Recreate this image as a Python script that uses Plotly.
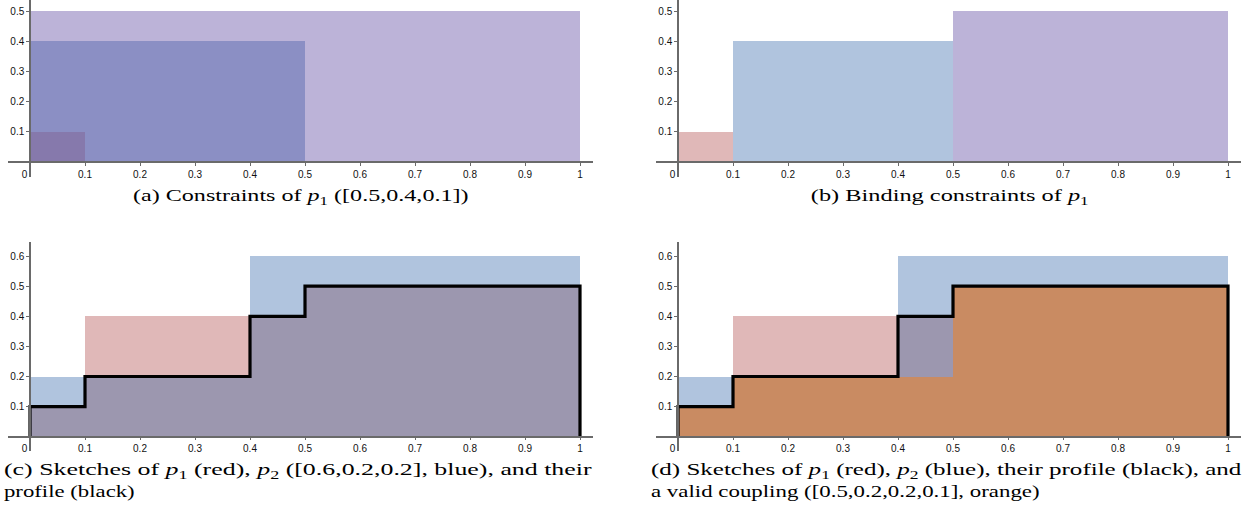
import plotly.graph_objects as go

# ---------------- data ----------------
# (a) constraints of p1: nested rectangles starting at 0
constraint_widths = [1.0, 0.5, 0.1]
constraint_heights = [0.5, 0.4, 0.1]

# (b) binding constraints of p1 (step segments)
p1_edges = [0.0, 0.1, 0.5, 1.0]
p1_heights = [0.1, 0.4, 0.5]

# (c)/(d) sketch of p2
p2_edges = [0.0, 0.1, 0.4, 1.0]
p2_heights = [0.2, 0.2, 0.6]

# profile (min of the two sketches)
profile_edges = [0.0, 0.1, 0.4, 0.5, 1.0]
profile_heights = [0.1, 0.2, 0.4, 0.5]

# (d) coupling sketch
coupling_edges = [0.0, 0.1, 0.4, 0.5, 1.0]
coupling_heights = [0.1, 0.2, 0.2, 0.5]

x_ticks = [0, 0.1, 0.2, 0.3, 0.4, 0.5, 0.6, 0.7, 0.8, 0.9, 1]
x_tick_text = ["0\u00a0\u00a0\u00a0\u00a0", "0.1", "0.2", "0.3", "0.4", "0.5",
               "0.6", "0.7", "0.8", "0.9", "1"]
y_ticks_top = [0.1, 0.2, 0.3, 0.4, 0.5]
y_ticks_bottom = [0.1, 0.2, 0.3, 0.4, 0.5, 0.6]

captions = {
    "a": "(a) Constraints of <i>p</i><sub>1</sub> ([0.5,0.4,0.1])",
    "b": "(b) Binding constraints of <i>p</i><sub>1</sub>",
    "c1": "(c) Sketches of <i>p</i><sub>1</sub> (red), <i>p</i><sub>2</sub> ([0.6,0.2,0.2], blue), and their",
    "c2": "profile (black)",
    "d1": "(d) Sketches of <i>p</i><sub>1</sub> (red), <i>p</i><sub>2</sub> (blue), their profile (black), and",
    "d2": "a valid coupling ([0.5,0.2,0.2,0.1], orange)",
}

# ---------------- style ----------------
W, H = 1255, 520
PURPLE = "#BCB3D8"
A_MID = "#8B8FC4"
A_SMALL = "#8679AC"
BLUE = "#B0C4DE"
RED = "#E0B8B8"
DARK = "#9C97AF"
ORANGE = "#C98B62"
AXIS = "#6a6a6a"


def seg(edges, heights):
    centers = [(edges[i] + edges[i + 1]) / 2 for i in range(len(heights))]
    widths = [edges[i + 1] - edges[i] for i in range(len(heights))]
    return centers, widths, heights


def bars(edges, heights, color, xa, ya):
    c, w, h = seg(edges, heights)
    return go.Bar(x=c, y=h, width=w, base=0, marker=dict(color=color, line=dict(width=0)),
                  xaxis=xa, yaxis=ya, hoverinfo="skip", showlegend=False)


def profile_line(edges, heights, xa, ya):
    xs = [edges[0]] + edges[:-1] + [edges[-1], edges[-1]]
    ys = [0] + heights + [heights[-1], 0]
    return go.Scatter(x=xs, y=ys, mode="lines", line=dict(color="black", width=3.2, shape="hv"),
                      xaxis=xa, yaxis=ya, hoverinfo="skip", showlegend=False, cliponaxis=False)


fig = go.Figure()

# (a)
for w_, h_, col in zip(constraint_widths, constraint_heights, [PURPLE, A_MID, A_SMALL]):
    fig.add_trace(go.Bar(x=[w_ / 2], y=[h_], width=[w_], base=0,
                         marker=dict(color=col, line=dict(width=0)),
                         xaxis="x", yaxis="y", hoverinfo="skip", showlegend=False))

# (b)
c, w, h = seg(p1_edges, p1_heights)
fig.add_trace(go.Bar(x=c, y=h, width=w, base=0,
                     marker=dict(color=[RED, BLUE, PURPLE], line=dict(width=0)),
                     xaxis="x2", yaxis="y2", hoverinfo="skip", showlegend=False))

# (c)
fig.add_trace(bars(p2_edges, p2_heights, BLUE, "x3", "y3"))
fig.add_trace(bars(p1_edges, p1_heights, RED, "x3", "y3"))
fig.add_trace(bars(profile_edges, profile_heights, DARK, "x3", "y3"))
fig.add_trace(profile_line(profile_edges, profile_heights, "x3", "y3"))

# (d)
fig.add_trace(bars(p2_edges, p2_heights, BLUE, "x4", "y4"))
fig.add_trace(bars(p1_edges, p1_heights, RED, "x4", "y4"))
fig.add_trace(bars(profile_edges, profile_heights, DARK, "x4", "y4"))
fig.add_trace(bars(coupling_edges, coupling_heights, ORANGE, "x4", "y4"))
fig.add_trace(profile_line(profile_edges, profile_heights, "x4", "y4"))

tick_font = dict(family="Liberation Sans", size=10, color="#111")

unit_x = 550.0


def xaxis(x0_px, y0_paper):
    return dict(domain=[(x0_px - 22) / W, (x0_px + 563) / W],
                range=[-22 / unit_x, 563 / unit_x],
                anchor="free", position=y0_paper, automargin=False,
                showline=True, linecolor=AXIS, linewidth=1.5,
                ticks="outside", ticklen=3, tickcolor=AXIS, tickwidth=1,
                tickvals=x_ticks, ticktext=x_tick_text, tickfont=tick_font,
                showgrid=False, zeroline=False, fixedrange=True)


def yaxis(y_zero_px, y_top_px, y_bot_px, unit_y, x0_px, ticks):
    return dict(domain=[(H - y_bot_px) / H, (H - y_top_px) / H],
                range=[-(y_bot_px - y_zero_px) / unit_y, (y_zero_px - y_top_px) / unit_y],
                anchor="free", position=x0_px / W, automargin=False,
                showline=True, linecolor=AXIS, linewidth=1.5,
                ticks="outside", ticklen=3, tickcolor=AXIS, tickwidth=1,
                tickvals=ticks, ticktext=[f"{t:g}" for t in ticks], tickfont=tick_font,
                showgrid=False, zeroline=False, fixedrange=True)


top_zero, top_top, top_bot, top_unit = 162.0, 0.0, 177.0, 302.0
bot_zero, bot_top, bot_bot, bot_unit = 436.7, 242.0, 451.0, 301.0

fig.update_layout(
    width=W, height=H,
    margin=dict(l=0, r=0, t=0, b=0, autoexpand=False),
    paper_bgcolor="white", plot_bgcolor="rgba(0,0,0,0)",
    barmode="overlay", bargap=0,
    xaxis=xaxis(30, (H - top_zero) / H),
    yaxis=yaxis(top_zero, top_top, top_bot, top_unit, 30, y_ticks_top),
    xaxis2=xaxis(678, (H - top_zero) / H),
    yaxis2=yaxis(top_zero, top_top, top_bot, top_unit, 678, y_ticks_top),
    xaxis3=xaxis(30, (H - bot_zero) / H),
    yaxis3=yaxis(bot_zero, bot_top, bot_bot, bot_unit, 30, y_ticks_bottom),
    xaxis4=xaxis(678, (H - bot_zero) / H),
    yaxis4=yaxis(bot_zero, bot_top, bot_bot, bot_unit, 678, y_ticks_bottom),
    hovermode=False,
)

cap_font = dict(family="Liberation Serif", size=17.5, color="black")


def cap(text, x_px, y_px, xanchor):
    fig.add_annotation(text=text, x=x_px / W, y=(H - y_px) / H, xref="paper", yref="paper",
                       xanchor=xanchor, yanchor="middle", showarrow=False, font=cap_font,
                       align="left")


# caption order: a, b, c1, c2, d1, d2
cap(captions["a"], 301, 196, "center")
cap(captions["b"], 950, 196, "center")
cap(captions["c1"], 1.5, 470, "left")
cap(captions["c2"], 1.5, 491, "left")
cap(captions["d1"], 649, 470, "left")
cap(captions["d2"], 649, 491, "left")

# The reference's LaTeX captions are horizontally wider than plain Times;
# stretch each caption horizontally to the width it has in the reference
# (first lines of (c)/(d) are justified to the full column width).
post = """
document.body.style.margin='0';
document.body.style.overflow='hidden';
(function(){
  var gd = document.getElementById('{plot_id}');
  var fitW = {0: 336, 1: 278, 2: 588, 3: 131, 4: 591, 5: 389};
  var centred = {0: true, 1: true};
  var anns = gd.querySelectorAll('.annotation');
  anns.forEach(function(a){
    var idx = parseInt(a.getAttribute('data-index'));
    var t = a.querySelector('text.annotation-text');
    if (!t || !fitW[idx]) return;
    var bb = t.getBBox();
    var sx = fitW[idx] / bb.width;
    var ox = centred[idx] ? bb.x + bb.width / 2 : bb.x;
    var prev = t.getAttribute('transform') || '';
    t.setAttribute('transform', prev + ' translate(' + ox + ',0) scale(' + sx + ',1) translate(' + (-ox) + ',0)');
  });
})();
"""

fig.write_html("out.html", config={"displayModeBar": False}, post_script=post)
